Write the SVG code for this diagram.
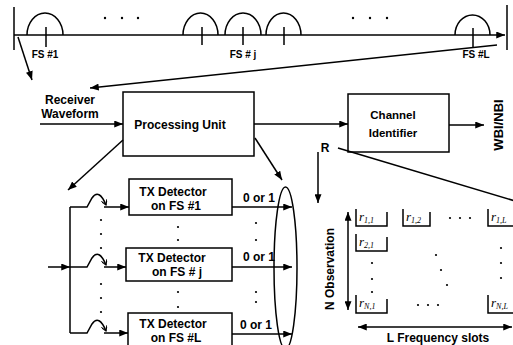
<svg xmlns="http://www.w3.org/2000/svg" width="513" height="345" viewBox="0 0 513 345">
<defs>
<style>
.ln{stroke:#000;stroke-width:1.5;fill:none}
.bx{stroke:#000;stroke-width:1.5;fill:#fff}
.t{font-family:"Liberation Sans",Arial,sans-serif;font-weight:bold;fill:#000}
.m{font-family:"Liberation Serif","Times New Roman",serif;font-style:italic;fill:#000}
.dot{fill:#000}
</style>
<marker id="ah" viewBox="0 0 10 8" refX="10" refY="4" markerWidth="9" markerHeight="7" markerUnits="userSpaceOnUse" orient="auto-start-reverse"><path d="M0,0 L10,4 L0,8 z"/></marker>
<marker id="sw" viewBox="0 0 6 6" refX="5" refY="3" markerWidth="6" markerHeight="6" markerUnits="userSpaceOnUse" orient="auto"><path d="M0,0 L5,3 L0,6" fill="none" stroke="#000" stroke-width="1.2"/></marker>
</defs>
<rect width="513" height="345" fill="#fff"/>

<g id="axis">
<line class="ln" x1="14" y1="35" x2="505" y2="35" marker-end="url(#ah)"/>
<line class="ln" x1="14" y1="7" x2="14" y2="50"/>
<line class="ln" x1="507" y1="5" x2="507" y2="50"/>
<path class="ln" d="M27,35 A18,22 0 0 1 63,35 M183,35 A17.5,22 0 0 1 218,35 M225,35 A18,22 0 0 1 261,35 M266,35 A17.5,22 0 0 1 301,35 M455,35 A17.5,20 0 0 1 490,35"/>
<path class="ln" d="M46,27 V47 M202,27 V45 M243,27 V45 M284,27 V45 M473,28 V48"/>
<circle class="dot" cx="105" cy="18" r="1.2"/><circle class="dot" cx="122" cy="18" r="1.2"/><circle class="dot" cx="138" cy="18" r="1.2"/>
<circle class="dot" cx="353" cy="18" r="1.2"/><circle class="dot" cx="370" cy="18" r="1.2"/><circle class="dot" cx="387" cy="18" r="1.2"/>
<text class="t" x="45" y="58" font-size="10" text-anchor="middle">FS #1</text>
<text class="t" x="243" y="58" font-size="10" text-anchor="middle">FS # j</text>
<text class="t" x="476" y="58" font-size="10" text-anchor="middle">FS #L</text>
</g>

<g id="receiver-label">
<text class="t" x="70" y="104" font-size="12" text-anchor="middle">Receiver</text>
<text class="t" x="70" y="118" font-size="12" text-anchor="middle">Waveform</text>
</g>

<g id="processing-unit">
<rect class="bx" x="123" y="92" width="131" height="64"/>
<text class="t" x="180" y="129" font-size="12" text-anchor="middle">Processing Unit</text>
</g>

<g id="channel-identifier">
<rect class="bx" x="348" y="94" width="101" height="58"/>
<text class="t" x="393" y="119" font-size="11.5" text-anchor="middle">Channel</text>
<text class="t" x="393" y="137" font-size="11.5" text-anchor="middle">Identifier</text>
</g>

<g id="wbi-label">
<text class="t" x="0" y="0" font-size="13" text-anchor="middle" transform="translate(502.5,125) rotate(-90)">WBI/NBI</text>
</g>

<g id="r-label">
<text class="t" x="325" y="152" font-size="12" text-anchor="middle">R</text>
</g>

<g id="tx-detector-1">
<rect class="bx" x="129" y="179" width="103" height="36"/>
<text class="t" x="173" y="196" font-size="12" text-anchor="middle">TX Detector</text>
<text class="t" x="176" y="210" font-size="12" text-anchor="middle">on FS #1</text>
</g>
<g id="tx-detector-j">
<rect class="bx" x="126" y="248" width="106" height="33"/>
<text class="t" x="172" y="262" font-size="12" text-anchor="middle">TX Detector</text>
<text class="t" x="177" y="276" font-size="12" text-anchor="middle">on FS # j</text>
</g>
<g id="tx-detector-L">
<rect class="bx" x="128" y="313" width="104" height="40"/>
<text class="t" x="173" y="328" font-size="12" text-anchor="middle">TX Detector</text>
<text class="t" x="176" y="342" font-size="12" text-anchor="middle">on FS #L</text>
</g>

<g id="connectors">
<line class="ln" x1="18" y1="37" x2="32" y2="80" marker-end="url(#ah)"/>
<line class="ln" x1="497" y1="45" x2="90" y2="88" marker-end="url(#ah)"/>
<line class="ln" x1="40" y1="124" x2="123" y2="124" marker-end="url(#ah)"/>
<line class="ln" x1="123" y1="140" x2="68" y2="190" marker-end="url(#ah)"/>
<line class="ln" x1="254" y1="124" x2="348" y2="124" marker-end="url(#ah)"/>
<line class="ln" x1="449" y1="125" x2="484" y2="125" marker-end="url(#ah)"/>
<line class="ln" x1="255" y1="138" x2="282" y2="180" marker-end="url(#ah)"/>
<line class="ln" x1="318" y1="152" x2="318" y2="203" marker-end="url(#ah)"/>
<line class="ln" x1="338" y1="148" x2="515" y2="201"/>
<ellipse class="ln" cx="285.5" cy="268" rx="11.5" ry="81"/>
<line class="ln" x1="70" y1="207" x2="70" y2="333"/>
<line class="ln" x1="48" y1="267" x2="70" y2="267" marker-end="url(#ah)"/>
<path class="ln" d="M70,207 H87 L92,198 Q99,188 106,205" marker-end="url(#sw)"/>
<line class="ln" x1="104" y1="207" x2="129" y2="207" marker-end="url(#ah)"/>
<path class="ln" d="M70,267 H87 L92,258 Q99,248 106,265" marker-end="url(#sw)"/>
<line class="ln" x1="104" y1="267" x2="126" y2="267" marker-end="url(#ah)"/>
<path class="ln" d="M70,333 H87 L92,324 Q99,314 106,331" marker-end="url(#sw)"/>
<line class="ln" x1="104" y1="333" x2="128" y2="333" marker-end="url(#ah)"/>
<line class="ln" x1="232" y1="207" x2="292" y2="207" marker-end="url(#ah)"/>
<line class="ln" x1="232" y1="267" x2="292" y2="267" marker-end="url(#ah)"/>
<line class="ln" x1="232" y1="334" x2="292" y2="334" marker-end="url(#ah)"/>
</g>

<g id="output-labels">
<text class="t" x="259" y="202" font-size="12" text-anchor="middle">0 or 1</text>
<text class="t" x="259" y="261" font-size="12" text-anchor="middle">0 or 1</text>
<text class="t" x="256" y="329" font-size="12" text-anchor="middle">0 or 1</text>
</g>

<g id="ellipsis-dots">
<circle class="dot" cx="101" cy="220" r="1.1"/><circle class="dot" cx="101" cy="234" r="1.1"/><circle class="dot" cx="101" cy="248" r="1.1"/>
<circle class="dot" cx="101" cy="284" r="1.1"/><circle class="dot" cx="101" cy="298" r="1.1"/><circle class="dot" cx="101" cy="312" r="1.1"/>
<circle class="dot" cx="178" cy="227" r="1.1"/><circle class="dot" cx="178" cy="240" r="1.1"/>
<circle class="dot" cx="178" cy="292" r="1.1"/><circle class="dot" cx="178" cy="307" r="1.1"/>
<circle class="dot" cx="256" cy="223" r="1.1"/><circle class="dot" cx="256" cy="240" r="1.1"/>
<circle class="dot" cx="256" cy="292" r="1.1"/><circle class="dot" cx="256" cy="302" r="1.1"/>
</g>

<g id="matrix">
<line class="ln" x1="348" y1="212" x2="348" y2="310" marker-start="url(#ah)" marker-end="url(#ah)"/>
<line class="ln" x1="358" y1="327" x2="512" y2="327" marker-start="url(#ah)" marker-end="url(#ah)"/>
<text class="t" x="0" y="0" font-size="12" text-anchor="middle" transform="translate(334,269) rotate(-90)">N Observation</text>
<text class="t" x="438" y="342" font-size="12" text-anchor="middle">L Frequency slots</text>
<path class="ln" d="M356,209 V226 H387 V212 M403,209 V226 H430 V212 M488,209 V226 H516 M356,234 V251 H387 V237 M356,295 V313 H387 V299 M488,295 V313 H516"/>
<text class="m" x="359" y="221" font-size="13">r<tspan font-size="8" dy="2">1,1</tspan></text>
<text class="m" x="406" y="221" font-size="13">r<tspan font-size="8" dy="2">1,2</tspan></text>
<text class="m" x="491" y="221" font-size="13">r<tspan font-size="8" dy="2">1,L</tspan></text>
<text class="m" x="359" y="246" font-size="13">r<tspan font-size="8" dy="2">2,1</tspan></text>
<text class="m" x="359" y="307" font-size="13">r<tspan font-size="8" dy="2">N,1</tspan></text>
<text class="m" x="491" y="307" font-size="13">r<tspan font-size="8" dy="2">N,L</tspan></text>
<circle class="dot" cx="450" cy="218" r="1.1"/><circle class="dot" cx="460" cy="218" r="1.1"/><circle class="dot" cx="470" cy="218" r="1.1"/>
<circle class="dot" cx="372" cy="263" r="1.1"/><circle class="dot" cx="372" cy="279" r="1.1"/><circle class="dot" cx="372" cy="292" r="1.1"/>
<circle class="dot" cx="436" cy="255" r="1.1"/><circle class="dot" cx="441" cy="270" r="1.1"/><circle class="dot" cx="447" cy="285" r="1.1"/>
<circle class="dot" cx="501" cy="248" r="1.1"/><circle class="dot" cx="501" cy="263" r="1.1"/><circle class="dot" cx="501" cy="278" r="1.1"/>
<circle class="dot" cx="418" cy="305" r="1.1"/><circle class="dot" cx="428" cy="305" r="1.1"/><circle class="dot" cx="438" cy="305" r="1.1"/>
</g>
</svg>
